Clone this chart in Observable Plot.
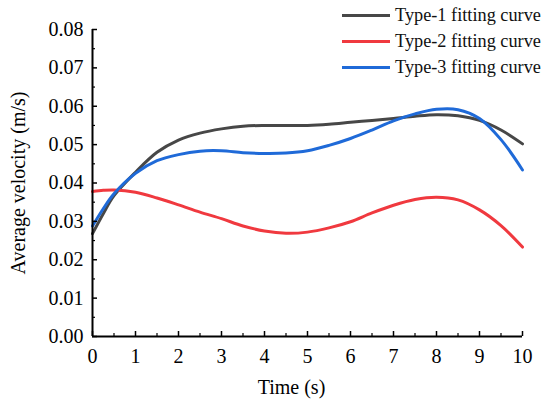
<!DOCTYPE html>
<html>
<head>
<meta charset="utf-8">
<script src="https://cdn.jsdelivr.net/npm/d3@7"></script>
<script src="https://cdn.jsdelivr.net/npm/@observablehq/plot@0.6"></script>
<style>
  html, body { margin: 0; padding: 0; background: #fff; }
  #wrap { position: relative; width: 550px; height: 403px; font-family: 'Liberation Serif', serif; }
  #legend { position: absolute; left: 342px; top: 2px; font-size: 18.3px; color: #111; font-weight: normal; }
  #legend .row { display: flex; align-items: center; height: 26.3px; }
  #legend .sw { width: 48px; height: 3px; margin-right: 5px; }
</style>
</head>
<body>
<div id="wrap"></div>
<script>
const times = [0, 0.25, 0.5, 1, 1.5, 2, 2.5, 3, 3.5, 4, 4.5, 5, 5.5, 6, 6.5, 7, 7.5, 8, 8.5, 9, 9.5, 10];
const type1 = [0.0268, 0.0320, 0.0367, 0.0428, 0.0480, 0.0512, 0.0530, 0.0541, 0.0548, 0.0550, 0.0550, 0.0550, 0.0553, 0.0558, 0.0563, 0.0568, 0.0574, 0.0578, 0.0575, 0.0563, 0.0538, 0.0502];
const type2 = [0.0378, 0.0381, 0.0382, 0.0376, 0.0361, 0.0343, 0.0324, 0.0307, 0.0288, 0.0275, 0.0269, 0.0272, 0.0283, 0.0299, 0.0322, 0.0342, 0.0357, 0.0363, 0.0356, 0.0330, 0.0289, 0.0233];
const type3 = [0.0288, 0.0333, 0.0372, 0.0425, 0.0458, 0.0474, 0.0483, 0.0484, 0.0479, 0.0477, 0.0478, 0.0484, 0.0498, 0.0516, 0.0538, 0.0562, 0.0580, 0.0592, 0.0591, 0.0568, 0.0513, 0.0434];
const seriesNames = ["Type-1 fitting curve", "Type-2 fitting curve", "Type-3 fitting curve"];
const seriesColors = ["#474747", "#f0393f", "#1f6ad8"];
const xTicks = [0, 1, 2, 3, 4, 5, 6, 7, 8, 9, 10];
const xMinor = [0.5, 1.5, 2.5, 3.5, 4.5, 5.5, 6.5, 7.5, 8.5, 9.5];
const yTicks = [0, 0.01, 0.02, 0.03, 0.04, 0.05, 0.06, 0.07, 0.08];
const yMinor = [0.005, 0.015, 0.025, 0.035, 0.045, 0.055, 0.065, 0.075];
const xTitle = "Time (s)";
const yTitle = "Average velocity (m/s)";

const allSeries = [type1, type2, type3];
const rows = [];
allSeries.forEach((vals, i) => vals.forEach((v, j) => rows.push({t: times[j], v, s: seriesNames[i]})));

const FONT = "Liberation Serif";

const chart = Plot.plot({
  width: 550,
  height: 403,
  marginLeft: 92,
  marginRight: 28,
  marginTop: 29,
  marginBottom: 67,
  style: {fontSize: "20px", color: "#000", background: "#fff", fontFamily: FONT},
  x: {domain: [0, 10]},
  y: {domain: [0, 0.08]},
  color: {domain: seriesNames, range: seriesColors},
  marks: [
    Plot.line(rows, {x: "t", y: "v", z: "s", stroke: "s", strokeWidth: 3, curve: "catmull-rom"}),
    Plot.axisX({ticks: xTicks, tickSize: -5, tickPadding: 17, tickFormat: d => String(d), strokeWidth: 1.5,
      label: null, fontSize: 20, fontFamily: FONT}),
    Plot.axisX({ticks: xMinor, tickSize: -3, tickFormat: () => "", strokeWidth: 1.2, label: null}),
    Plot.axisY({ticks: yTicks, tickSize: -5, tickPadding: 14, tickFormat: d => d.toFixed(2), strokeWidth: 1.5,
      label: yTitle, labelAnchor: "center", labelArrow: "none", labelOffset: 82, fontSize: 20, fontFamily: FONT}),
    Plot.axisY({ticks: yMinor, tickSize: -3, tickFormat: () => "", strokeWidth: 1.2, label: null}),
    Plot.text([xTitle], {frameAnchor: "bottom", dx: -16, dy: 57, fontSize: 20, fontFamily: FONT, fill: "#000"}),
    Plot.ruleX([0], {strokeWidth: 2}),
    Plot.ruleY([0], {strokeWidth: 2})
  ]
});

const wrap = document.getElementById("wrap");
wrap.appendChild(chart);

const legend = document.createElement("div");
legend.id = "legend";
seriesNames.forEach((name, i) => {
  const row = document.createElement("div");
  row.className = "row";
  const sw = document.createElement("div");
  sw.className = "sw";
  sw.style.background = seriesColors[i];
  const label = document.createElement("span");
  label.textContent = name;
  row.appendChild(sw);
  row.appendChild(label);
  legend.appendChild(row);
});
wrap.appendChild(legend);
</script>
</body>
</html>
